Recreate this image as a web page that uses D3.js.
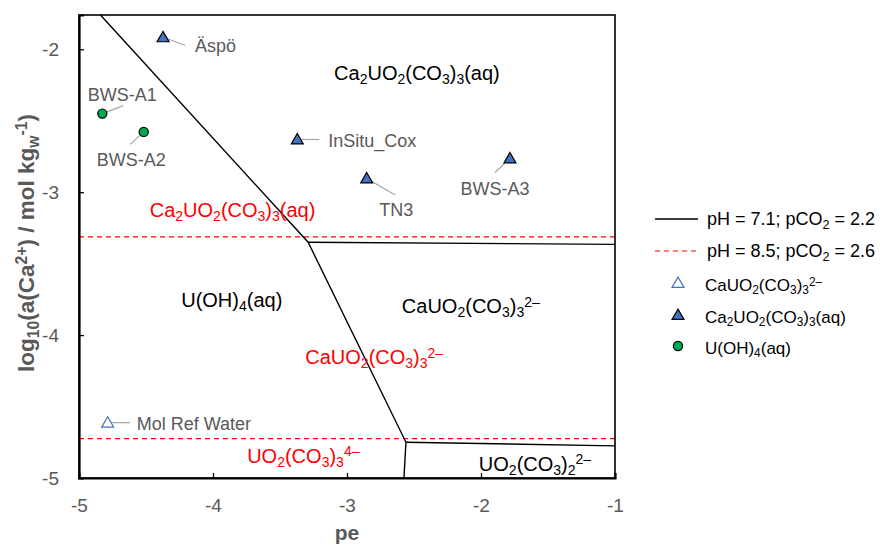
<!DOCTYPE html>
<html>
<head>
<meta charset="utf-8">
<script src="https://cdn.jsdelivr.net/npm/d3@7"></script>
<style>
  html, body { margin: 0; padding: 0; background: #fff; }
  svg { display: block; font-family: "Liberation Sans", Arial, sans-serif; }
</style>
</head>
<body>
<svg id="chart" width="880" height="547"></svg>
<script>
// Axis ranges and ticks
const peDomain = [-5, -1];
const logCaDomain = [-5, -1.76];
const peTicks = [-5, -4, -3, -2, -1];
const logCaTicks = [-5, -4, -3, -2];

// Predominance boundaries at pH 7.1, pCO2 2.2 — vertices as [pe, log10 a(Ca2+)]
const boundaryDiagonal = [[-4.84, -1.76], [-3.29, -3.35], [-2.56, -4.75], [-2.575, -5]];
const boundaryUpper = [[-3.29, -3.35], [-1, -3.365]];
const boundaryLower = [[-2.56, -4.75], [-1, -4.775]];

// Boundaries at pH 8.5, pCO2 2.6 (horizontal, log10 a(Ca2+))
const altBoundaryLevels = [-3.313, -4.725];

// Water samples
const sampleNames = ["Äspö", "BWS-A1", "BWS-A2", "InSitu_Cox", "TN3", "BWS-A3", "Mol Ref Water"];
const samplePe = [-4.373, -4.826, -4.517, -3.371, -2.853, -1.784, -4.786];
const sampleLogCa = [-1.916, -2.450, -2.578, -2.631, -2.904, -2.764, -4.613];
const sampleSpecies = ["ca2", "uoh4", "uoh4", "ca2", "ca2", "ca2", "ca1"];

// Field labels: markup, pe, log a(Ca2+), colour group
const fieldText = [
  "Ca{_2}UO{_2}(CO{_3}){_3}(aq)",
  "Ca{_2}UO{_2}(CO{_3}){_3}(aq)",
  "U(OH){_4}(aq)",
  "CaUO{_2}(CO{_3}){_3}{^2–}",
  "CaUO{_2}(CO{_3}){_3}{^2–}",
  "UO{_2}(CO{_3}){_3}{^4–}",
  "UO{_2}(CO{_3}){_2}{^2–}"
];
const fieldPe = [-2.478, -3.854, -3.860, -2.076, -2.797, -3.326, -1.597];
const fieldLogCa = [-2.217, -3.175, -3.804, -3.846, -4.205, -4.893, -4.949];
const fieldSet = ["a", "b", "a", "a", "b", "b", "a"];

// Legend entries
const legendLines = ["pH = 7.1; pCO{_2} = 2.2", "pH = 8.5; pCO{_2} = 2.6"];
const legendSpecies = [
  ["ca1", "CaUO{_2}(CO{_3}){_3}{^2–}"],
  ["ca2", "Ca{_2}UO{_2}(CO{_3}){_3}(aq)"],
  ["uoh4", "U(OH){_4}(aq)"]
];

const margin = { left: 79, top: 15, right: 265, bottom: 69 };
const W = 880, H = 547;
const plotW = W - margin.left - margin.right;
const plotH = H - margin.top - margin.bottom;

const RED = "#ff0000";
const GREY = "#595959";
const BLUE = "#4472c4";
const GREEN = "#00a84f";

const svg = d3.select("#chart");
const g = svg.append("g").attr("transform", `translate(${margin.left},${margin.top})`);

const x = d3.scaleLinear().domain(peDomain).range([0, plotW]);
const y = d3.scaleLinear().domain(logCaDomain).range([plotH, 0]);

// Text with sub/superscripts: {_x} subscript, {^x} superscript
function richText(sel, markup, size) {
  const re = /\{([_^])([^}]*)\}/g;
  let last = 0, m, shift = 0;
  const parts = [];
  while ((m = re.exec(markup)) !== null) {
    if (m.index > last) parts.push(["n", markup.slice(last, m.index)]);
    parts.push([m[1], m[2]]);
    last = re.lastIndex;
  }
  if (last < markup.length) parts.push(["n", markup.slice(last)]);
  parts.forEach(([k, t]) => {
    let target = 0, fs = size;
    if (k === "_") { target = 0.2 * size; fs = size * 0.7; }
    if (k === "^") { target = -0.32 * size; fs = size * 0.7; }
    sel.append("tspan")
      .attr("font-size", fs)
      .attr("dy", target - shift)
      .text(t);
    shift = target;
  });
  return sel;
}

function marker(sel, kind) {
  if (kind === "uoh4") {
    sel.append("circle").attr("r", 4.6)
      .attr("fill", GREEN).attr("stroke", "#000").attr("stroke-width", 1.2);
  } else {
    sel.append("path")
      .attr("d", d3.symbol().type(d3.symbolTriangle).size(62)())
      .attr("transform", "translate(0,1)")
      .attr("fill", kind === "ca2" ? BLUE : "#fff")
      .attr("stroke", kind === "ca2" ? "#000" : BLUE)
      .attr("stroke-width", 1.2);
  }
}

// Alternative boundaries (red dashed)
g.selectAll("line.alt").data(altBoundaryLevels).join("line")
  .attr("class", "alt")
  .attr("x1", x(peDomain[0])).attr("x2", x(peDomain[1]))
  .attr("y1", d => y(d)).attr("y2", d => y(d))
  .attr("stroke", RED).attr("stroke-width", 1.2)
  .attr("stroke-dasharray", "5,4");

// Main boundaries
const lineGen = d3.line().x(d => x(d[0])).y(d => y(d[1]));
g.selectAll("path.bnd").data([boundaryDiagonal, boundaryUpper, boundaryLower]).join("path")
  .attr("class", "bnd")
  .attr("d", lineGen)
  .attr("fill", "none").attr("stroke", "#000").attr("stroke-width", 1.4);

// Field labels
fieldText.forEach((t, i) => {
  const txt = g.append("text")
    .attr("x", x(fieldPe[i])).attr("y", y(fieldLogCa[i]))
    .attr("text-anchor", "middle")
    .attr("fill", fieldSet[i] === "a" ? "#000" : RED);
  richText(txt, t, 20);
});

// Sample label layout (pixel offsets from the marker)
const labelLayout = {
  "Äspö":          { tx: 32,   ty: 15,   anchor: "start",  lx: 22,   ly: 8 },
  "BWS-A1":        { tx: 20,   ty: -13,  anchor: "middle", lx: 21,   ly: -8 },
  "BWS-A2":        { tx: -12.5, ty: 34,  anchor: "middle", lx: -13.5, ly: 12.5 },
  "InSitu_Cox":    { tx: 31,   ty: 7.5,  anchor: "start",  lx: 22,   ly: 0 },
  "TN3":           { tx: 29.5, ty: 38,   anchor: "middle", lx: 28.5, ly: 16.5 },
  "BWS-A3":        { tx: -15,  ty: 36.5, anchor: "middle", lx: -15,  ly: 14 },
  "Mol Ref Water": { tx: 29,   ty: 7.5,  anchor: "start",  lx: 22.5, ly: 0 }
};

const samples = sampleNames.map((n, i) => ({ name: n, pe: samplePe[i], v: sampleLogCa[i], kind: sampleSpecies[i] }));

const sg = g.selectAll("g.sample").data(samples).join("g")
  .attr("class", "sample")
  .attr("transform", d => `translate(${x(d.pe)},${y(d.v)})`);

sg.append("line")
  .attr("x1", 0).attr("y1", 0)
  .attr("x2", d => labelLayout[d.name].lx).attr("y2", d => labelLayout[d.name].ly)
  .attr("stroke", "#a6a6a6").attr("stroke-width", 1.2);

sg.each(function (d) { marker(d3.select(this), d.kind); });

sg.append("text")
  .attr("x", d => labelLayout[d.name].tx).attr("y", d => labelLayout[d.name].ty)
  .attr("text-anchor", d => labelLayout[d.name].anchor)
  .attr("font-size", 18).attr("fill", GREY)
  .text(d => d.name);

// Frame
g.append("rect").attr("width", plotW).attr("height", plotH)
  .attr("fill", "none").attr("stroke", "#000").attr("stroke-width", 1.6);

// Axes with inward ticks
const xAxis = g.append("g").attr("transform", `translate(0,${plotH})`)
  .call(d3.axisBottom(x).tickValues(peTicks).tickSize(-5).tickPadding(21).tickFormat(d => String(d)));
const yAxis = g.append("g")
  .call(d3.axisLeft(y).tickValues(logCaTicks).tickSize(-5).tickPadding(20).tickFormat(d => String(d)));
[xAxis, yAxis].forEach(a => {
  a.select(".domain").attr("stroke", "#000").attr("stroke-width", 2.2);
  a.selectAll(".tick line").attr("stroke", "#000").attr("stroke-width", 1.3);
  a.selectAll(".tick text").attr("font-size", 19).attr("fill", GREY)
    .attr("font-family", "Liberation Sans, Arial, sans-serif");
});
xAxis.selectAll(".tick").filter(d => d === peDomain[0] || d === peDomain[1]).select("line").remove();
yAxis.selectAll(".tick").filter(d => d === logCaDomain[0]).select("line").remove();

// Axis titles
svg.append("text")
  .attr("x", margin.left + x(-3)).attr("y", 540)
  .attr("text-anchor", "middle").attr("font-size", 21).attr("font-weight", "bold")
  .attr("fill", GREY).text("pe");

const yTitle = svg.append("text")
  .attr("transform", `translate(34,${243}) rotate(-90)`)
  .attr("text-anchor", "middle").attr("font-size", 22.5).attr("font-weight", "bold")
  .attr("fill", GREY);
richText(yTitle, "log{_10}(a(Ca{^2+}) / mol kg{_w}{^-1})", 22.5);

// Legend
const lg = svg.append("g").attr("transform", "translate(655,0)");
const lineRowsY = [219, 251];
legendLines.forEach((t, i) => {
  lg.append("line").attr("x1", 0).attr("x2", 43)
    .attr("y1", lineRowsY[i]).attr("y2", lineRowsY[i])
    .attr("stroke", i === 0 ? "#000" : RED).attr("stroke-width", i === 0 ? 1.4 : 1.2)
    .attr("stroke-dasharray", i === 0 ? null : "5,4");
  const tx = lg.append("text").attr("x", 52).attr("y", lineRowsY[i] + 6)
    .attr("font-size", 18).attr("fill", "#000");
  richText(tx, t, 18);
});
const symRowsY = [283, 315, 346];
legendSpecies.forEach(([kind, label], i) => {
  const row = lg.append("g").attr("transform", `translate(23,${symRowsY[i]})`);
  marker(row, kind);
  const tx = lg.append("text").attr("x", 50).attr("y", symRowsY[i] + 8)
    .attr("font-size", 17).attr("fill", "#000");
  richText(tx, label, 17);
});
</script>
</body>
</html>
